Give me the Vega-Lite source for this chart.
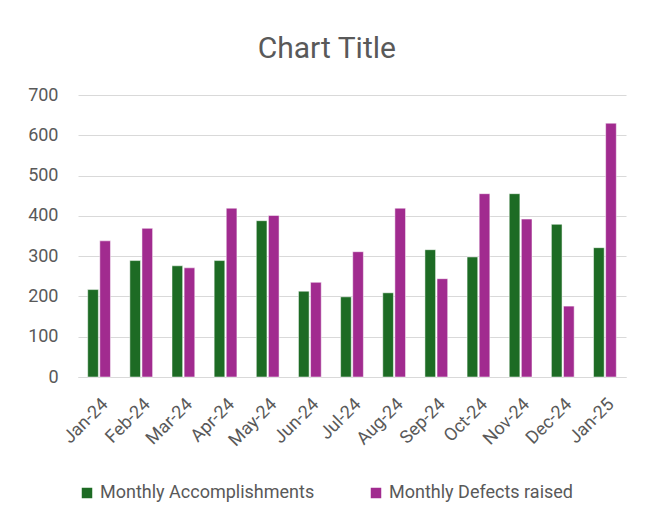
{
  "$schema": "https://vega.github.io/schema/vega-lite/v6.json",
  "width": 548,
  "height": 282,
  "autosize": {"type": "none"},
  "padding": {"left": 78, "top": 95, "right": 23, "bottom": 150},
  "title": {"text": "Chart Title", "fontSize": 30, "font": "Roboto", "fontWeight": "normal", "color": "#595959", "offset": 22, "anchor": "middle", "frame": "bounds"},
  "data": {"values": [
    {"month": "Jan-24", "series": "Monthly Accomplishments", "value": 217},
    {"month": "Jan-24", "series": "Monthly Defects raised", "value": 338},
    {"month": "Feb-24", "series": "Monthly Accomplishments", "value": 289},
    {"month": "Feb-24", "series": "Monthly Defects raised", "value": 369},
    {"month": "Mar-24", "series": "Monthly Accomplishments", "value": 276},
    {"month": "Mar-24", "series": "Monthly Defects raised", "value": 271},
    {"month": "Apr-24", "series": "Monthly Accomplishments", "value": 289},
    {"month": "Apr-24", "series": "Monthly Defects raised", "value": 419},
    {"month": "May-24", "series": "Monthly Accomplishments", "value": 388},
    {"month": "May-24", "series": "Monthly Defects raised", "value": 401},
    {"month": "Jun-24", "series": "Monthly Accomplishments", "value": 213},
    {"month": "Jun-24", "series": "Monthly Defects raised", "value": 235},
    {"month": "Jul-24", "series": "Monthly Accomplishments", "value": 199},
    {"month": "Jul-24", "series": "Monthly Defects raised", "value": 311},
    {"month": "Aug-24", "series": "Monthly Accomplishments", "value": 209},
    {"month": "Aug-24", "series": "Monthly Defects raised", "value": 419},
    {"month": "Sep-24", "series": "Monthly Accomplishments", "value": 316},
    {"month": "Sep-24", "series": "Monthly Defects raised", "value": 244},
    {"month": "Oct-24", "series": "Monthly Accomplishments", "value": 298},
    {"month": "Oct-24", "series": "Monthly Defects raised", "value": 455},
    {"month": "Nov-24", "series": "Monthly Accomplishments", "value": 455},
    {"month": "Nov-24", "series": "Monthly Defects raised", "value": 392},
    {"month": "Dec-24", "series": "Monthly Accomplishments", "value": 379},
    {"month": "Dec-24", "series": "Monthly Defects raised", "value": 176},
    {"month": "Jan-25", "series": "Monthly Accomplishments", "value": 321},
    {"month": "Jan-25", "series": "Monthly Defects raised", "value": 630}
  ]},
  "mark": {"type": "bar", "stroke": "#ffffff", "strokeWidth": 0.5},
  "encoding": {
    "x": {
      "field": "month", "type": "ordinal", "sort": null,
      "scale": {"paddingInner": 0.46, "paddingOuter": 0.23},
      "axis": {"title": null, "labelAngle": -45, "labelFont": "Roboto", "labelFontSize": 18, "labelColor": "#595959", "ticks": false, "domainColor": "#d9d9d9", "labelPadding": 18}
    },
    "xOffset": {"field": "series", "type": "nominal", "scale": {"paddingInner": 0.12}},
    "y": {
      "field": "value", "type": "quantitative",
      "scale": {"domain": [0, 700]},
      "axis": {"title": null, "values": [0, 100, 200, 300, 400, 500, 600, 700], "labelFont": "Roboto", "labelFontSize": 18, "labelColor": "#595959", "ticks": false, "domain": false, "gridColor": "#d9d9d9", "labelPadding": 20}
    },
    "color": {
      "field": "series", "type": "nominal",
      "scale": {"domain": ["Monthly Accomplishments", "Monthly Defects raised"], "range": ["#1d6b24", "#a12b8f"]},
      "legend": {"title": null, "orient": "bottom", "direction": "horizontal", "symbolType": "square", "symbolSize": 110, "symbolStrokeWidth": 0, "labelFont": "Roboto", "labelFontSize": 18, "labelColor": "#595959", "labelLimit": 0, "columnPadding": 52, "offset": 34}
    }
  },
  "config": {"view": {"stroke": null}, "background": "#ffffff"}
}
